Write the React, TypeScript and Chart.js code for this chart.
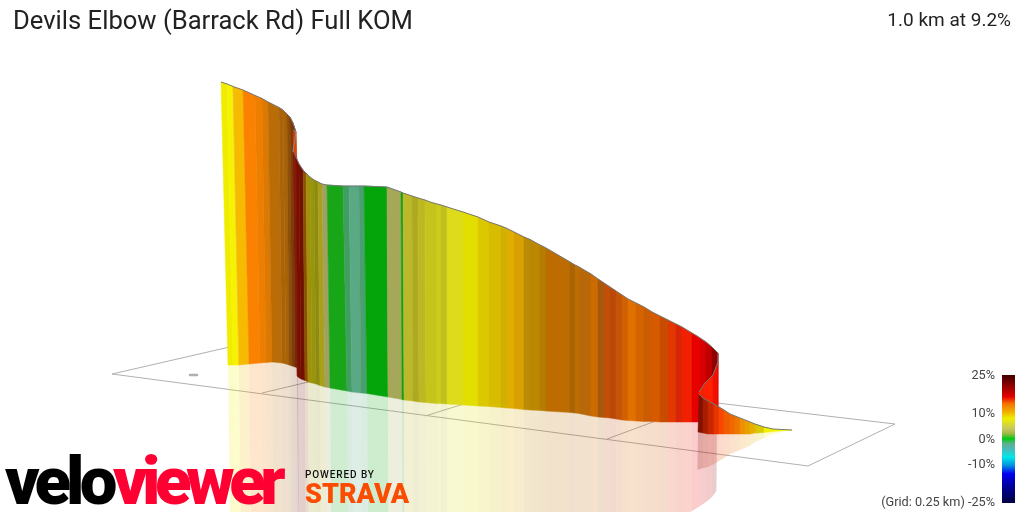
import React, { useEffect, useRef } from "react";
import { Chart, registerables } from "chart.js";

Chart.register(...registerables);

const titleText = "Devils Elbow (Barrack Rd) Full KOM";
const summaryText = "1.0 km at 9.2%";
const gridNote = "(Grid: 0.25 km) -25%";
const barLabels = ["25%", "10%", "0%", "-10%"];

// Section 1: the stretch before the hairpin
const s1TopX = [221, 227, 232, 233, 243, 255, 262, 268, 279, 283, 287, 290, 293, 296];
const s1TopY = [82, 84, 86, 86.5, 90, 95.5, 98.5, 102, 107.5, 110, 114, 117, 123, 132];
const s1BotX = [228, 233, 238, 239, 249, 260, 266, 272, 282, 286, 289, 292, 295, 298];
const s1BotY = [365, 365, 365, 365, 364, 363, 362.5, 362, 363, 364, 365, 366, 367, 368];
const s1Colors = ["#f0ec00", "#f7f300", "#ecea18", "#f6bb00", "#fb8200", "#ee7e00", "#dd7800", "#ba6d06", "#a9640a", "#ab6204", "#8e5006", "#7e3c08", "#6e2c08"];

// Hairpin inner sliver
const foldTopX = [293.5, 296];
const foldTopY = [130, 132];
const foldBotX = [293, 297];
const foldBotY = [152, 168];
const foldColors = ["#e04000"];

// Section 2: main climb
const s2TopX = [293, 296, 299, 303, 306, 310, 314, 318, 322, 327, 343, 349, 359, 364, 387, 401, 403, 412, 418, 425, 430, 437, 441, 447, 463, 478, 489, 501, 507, 514, 524, 530, 540, 546, 570, 575, 579, 591, 598, 604, 610, 616, 622, 628, 636, 644, 652, 660, 668, 676, 682, 692, 697, 700, 706, 712, 718];
const s2TopY = [150, 157, 164, 170, 173, 177, 180, 182, 184, 185, 186, 186, 186, 186, 187, 192, 193, 196, 198, 200, 202, 204, 205, 207, 212, 217, 222, 226, 228.5, 232, 237, 239.5, 245, 248, 262, 265, 267, 274, 279, 283, 287, 291, 295, 299, 303, 307, 312, 316, 320, 324, 327, 333, 336, 338, 342, 347, 353];
const s2BotX = [297, 298, 301, 305, 308, 312, 316, 320, 325, 330, 347, 352, 361, 367, 388, 402, 404, 413, 419, 426, 430, 437, 441, 447, 463, 478, 489, 501, 507, 514, 524, 530, 540, 546, 570, 575, 579, 591, 598, 604, 610, 616, 622, 628, 636, 644, 652, 660, 668, 676, 682, 692, 697, 700, 706, 712, 717];
const s2BotY = [376, 377, 379, 380.5, 382, 383, 384, 385.5, 387, 388, 391, 392, 393, 393.5, 397, 399.5, 400, 401, 402, 402.5, 403, 403.5, 403.5, 404, 405, 406, 406.5, 407.5, 408, 408.5, 409.5, 410, 410.5, 411, 412.5, 413, 413.5, 416, 417, 417.5, 418, 419, 420, 420.5, 421, 421.5, 421.5, 422, 422, 422, 422, 422, 422, 422, 422, 422, 422];
const s2Colors = ["#8a1a08", "#7a0f00", "#701000", "#8a5000", "#a0900a", "#98940c", "#8e8c10", "#a8a018", "#a0a060", "#18a518", "#409e60", "#5aa985", "#4a9e70", "#04a50a", "#a5a858", "#10a010", "#bcb82c", "#aeaa20", "#bcb824", "#c6c41c", "#c4c41c", "#cccc20", "#c0c01c", "#dddb1a", "#e2de00", "#dcc800", "#d8bc00", "#d0b000", "#e0ae00", "#d8a000", "#b88c04", "#bc8804", "#b47c00", "#bc6c00", "#a86404", "#bc6e00", "#b86808", "#cc6c00", "#a8580c", "#c05008", "#bc4808", "#c45408", "#d06000", "#e07000", "#d46400", "#cc5c00", "#d85a00", "#c84c00", "#e03800", "#d82408", "#f02000", "#e80000", "#e80000", "#d80000", "#c00000", "#900000"];

// Twist behind the final stretch
const twistTopX = [699, 705, 713, 718, 718];
const twistTopY = [392, 383, 375, 362, 353];
const twistBotX = [699, 705, 713, 718, 718];
const twistBotY = [396, 399, 404, 407, 407];
const twistColors = ["#f52000", "#ff2000", "#f01000", "#e00000"];

// Section 3: final run-out
const s3TopX = [699, 703, 708, 714, 719, 724, 730, 735, 740, 745, 750, 755, 758, 764, 773, 792];
const s3TopY = [394, 398, 401, 404, 407, 410, 414, 416, 418, 420, 422, 424, 425, 427, 429, 430];
const s3BotX = [698, 703, 708, 714, 719, 724, 730, 735, 740, 745, 750, 755, 758, 764, 773, 792];
const s3BotY = [432, 433, 434, 434, 434, 434, 434, 434, 434, 434, 434, 433, 433, 432.5, 431.5, 430];
const s3Colors = ["#801000", "#a81c00", "#c82800", "#e83400", "#f84800", "#f05c00", "#f06800", "#ec7800", "#f09000", "#e8a000", "#e4b000", "#e0c000", "#d8cc00", "#f0f000", "#f5f200"];

// Ground plane
const planeX = [234, 112, 808, 895, 234];
const planeY = [346, 374, 466, 424, 346];
const gridLines = [
  { x: [262, 384], y: [393, 364] },
  { x: [425, 535], y: [416, 382] },
  { x: [607, 707], y: [439, 402] },
];
const startDotX = [190, 197];
const startDotY = [375, 375];

// Gradient bar
const barX = [1002, 1015];
const barY = [375, 503];
const barStops = ["#400000", "#b00000", "#e80000", "#f57000", "#f0b000", "#eeee00", "#c8c860", "#a0b848", "#00cc10", "#60b090", "#40c0c0", "#00e8e8", "#0090e0", "#0000f0", "#0000a0", "#000040"];
const barOffsets = [0, 0.118, 0.17, 0.223, 0.288, 0.34, 0.419, 0.458, 0.497, 0.537, 0.589, 0.641, 0.707, 0.772, 0.864, 1];

type Sec = { tx: number[]; ty: number[]; bx: number[]; by: number[]; c: string[] };
const s1: Sec = { tx: s1TopX, ty: s1TopY, bx: s1BotX, by: s1BotY, c: s1Colors };
const fold: Sec = { tx: foldTopX, ty: foldTopY, bx: foldBotX, by: foldBotY, c: foldColors };
const s2: Sec = { tx: s2TopX, ty: s2TopY, bx: s2BotX, by: s2BotY, c: s2Colors };
const twist: Sec = { tx: twistTopX, ty: twistTopY, bx: twistBotX, by: twistBotY, c: twistColors };
const s3: Sec = { tx: s3TopX, ty: s3TopY, bx: s3BotX, by: s3BotY, c: s3Colors };

function poly(points: { x: number; y: number }[], fillColor: string, seam: boolean): any {
  return { type: "scatter", data: points, showLine: false, pointRadius: 0, polyFill: fillColor, polySeam: seam };
}
function line(xs: number[], ys: number[], color: string, width: number, cap = "butt"): any {
  return {
    type: "scatter",
    data: xs.map((x, i) => ({ x, y: ys[i] })),
    showLine: true,
    pointRadius: 0,
    borderColor: color,
    borderWidth: width,
    borderCapStyle: cap,
    tension: 0,
    fill: false,
  };
}
function ribbon(s: Sec): any[] {
  return s.c.map((col, i) =>
    poly(
      [
        { x: s.tx[i], y: s.ty[i] },
        { x: s.tx[i + 1], y: s.ty[i + 1] },
        { x: s.bx[i + 1], y: s.by[i + 1] },
        { x: s.bx[i], y: s.by[i] },
      ],
      col,
      true
    )
  );
}
function alpha(hex: string, a: number): string {
  const n = parseInt(hex.slice(1), 16);
  return `rgba(${(n >> 16) & 255},${(n >> 8) & 255},${n & 255},${a})`;
}
function reflection(s: Sec): any[] {
  const rx = (i: number) => s.bx[i] + (s.bx[i] - s.tx[i]) * 0.55;
  const ry = (i: number) => 2 * s.by[i] - s.ty[i];
  return s.c.map((col, i) =>
    poly(
      [
        { x: s.bx[i], y: s.by[i] },
        { x: s.bx[i + 1], y: s.by[i + 1] },
        { x: rx(i + 1), y: ry(i + 1) },
        { x: rx(i), y: ry(i) },
      ],
      alpha(col, 0.2),
      false
    )
  );
}

const polygonPlugin = {
  id: "polygonFill",
  beforeDatasetDraw(chart: any, args: any) {
    const ds = chart.data.datasets[args.index];
    if (!ds.polyFill && !ds.barGradient) return;
    const pts = args.meta.data;
    const ctx = chart.ctx;
    ctx.save();
    ctx.beginPath();
    pts.forEach((p: any, i: number) => (i ? ctx.lineTo(p.x, p.y) : ctx.moveTo(p.x, p.y)));
    ctx.closePath();
    if (ds.barGradient) {
      const g = ctx.createLinearGradient(0, pts[0].y, 0, pts[2].y);
      barStops.forEach((c, i) => g.addColorStop(barOffsets[i], c));
      ctx.fillStyle = g;
    } else {
      ctx.fillStyle = ds.polyFill;
    }
    ctx.fill();
    if (ds.polySeam) {
      ctx.strokeStyle = ds.polyFill;
      ctx.lineWidth = 0.5;
      ctx.stroke();
    }
    ctx.restore();
  },
};

const textPlugin = {
  id: "pageText",
  afterDraw(chart: any) {
    const ctx = chart.ctx;
    const put = (t: string, x: number, y: number, font: string, color: string, align = "left", spacing = "0px") => {
      ctx.save();
      ctx.font = font;
      ctx.fillStyle = color;
      ctx.textAlign = align;
      ctx.textBaseline = "alphabetic";
      ctx.letterSpacing = spacing;
      ctx.fillText(t, x, y);
      ctx.restore();
    };
    put(titleText, 13, 29, "400 25.6px Roboto", "#222");
    put(summaryText, 1011, 25.5, "400 19px Roboto", "#222", "right");
    const labelY = [379, 417, 443, 468];
    barLabels.forEach((t, i) => put(t, 995, labelY[i], "400 12.7px Roboto", "#444", "right"));
    put(gridNote, 995, 506, "400 12.7px Roboto", "#444", "right");
    put("velo", 5, 504, "900 67px Roboto", "#000", "left", "-4.8px");
    put("viewer", 113, 504, "900 67px Roboto", "#ff0033", "left", "-5.5px");
    put("POWERED BY", 305, 478, "500 10px Roboto", "#111", "left", "0.9px");
    put("STRAVA", 305, 503, "900 27px Roboto", "#fc4c02", "left", "0px");
  },
};

export default function App() {
  const ref = useRef<HTMLCanvasElement>(null);
  useEffect(() => {
    if (!ref.current) return;
    const datasets: any[] = [
      line(planeX, planeY, "#b0b0b0", 1),
      ...gridLines.map((g) => line(g.x, g.y, "#b0b0b0", 1)),
      line(startDotX, startDotY, "#b0b0b0", 2.5, "round"),
      ...reflection(s1),
      ...reflection(s2),
      ...reflection(s3),
      ...ribbon(s1),
      ...ribbon(fold),
      ...ribbon(s2),
      line(s1TopX, s1TopY, "#777777", 1),
      line(s2TopX, s2TopY, "#777777", 1),
      ...ribbon(twist),
      ...ribbon(s3),
      line(foldTopX.concat(foldBotX[0]), foldTopY.concat(foldBotY[0]), "#888888", 1),
      line(twistTopX, twistTopY, "#777777", 1),
      line(s3TopX, s3TopY, "#777777", 1),
      {
        type: "scatter",
        data: [
          { x: barX[0], y: barY[0] },
          { x: barX[1], y: barY[0] },
          { x: barX[1], y: barY[1] },
          { x: barX[0], y: barY[1] },
        ],
        showLine: false,
        pointRadius: 0,
        barGradient: true,
      },
    ];
    datasets.forEach((d, i) => (d.order = -i));
    const chart = new Chart(ref.current, {
      type: "scatter",
      data: { datasets },
      plugins: [polygonPlugin, textPlugin],
      options: {
        responsive: false,
        animation: false,
        events: [],
        layout: { padding: 0 },
        plugins: { legend: { display: false }, title: { display: false }, tooltip: { enabled: false } },
        scales: {
          x: { type: "linear", min: 0, max: 1024, display: false },
          y: { type: "linear", min: 0, max: 512, reverse: true, display: false },
        },
      },
    } as any);
    return () => chart.destroy();
  }, []);
  return (
    <div style={{ position: "fixed", left: 0, top: 0, width: 1024, height: 512, background: "#fff" }}>
      <canvas ref={ref} width={1024} height={512} style={{ display: "block" }} />
    </div>
  );
}
